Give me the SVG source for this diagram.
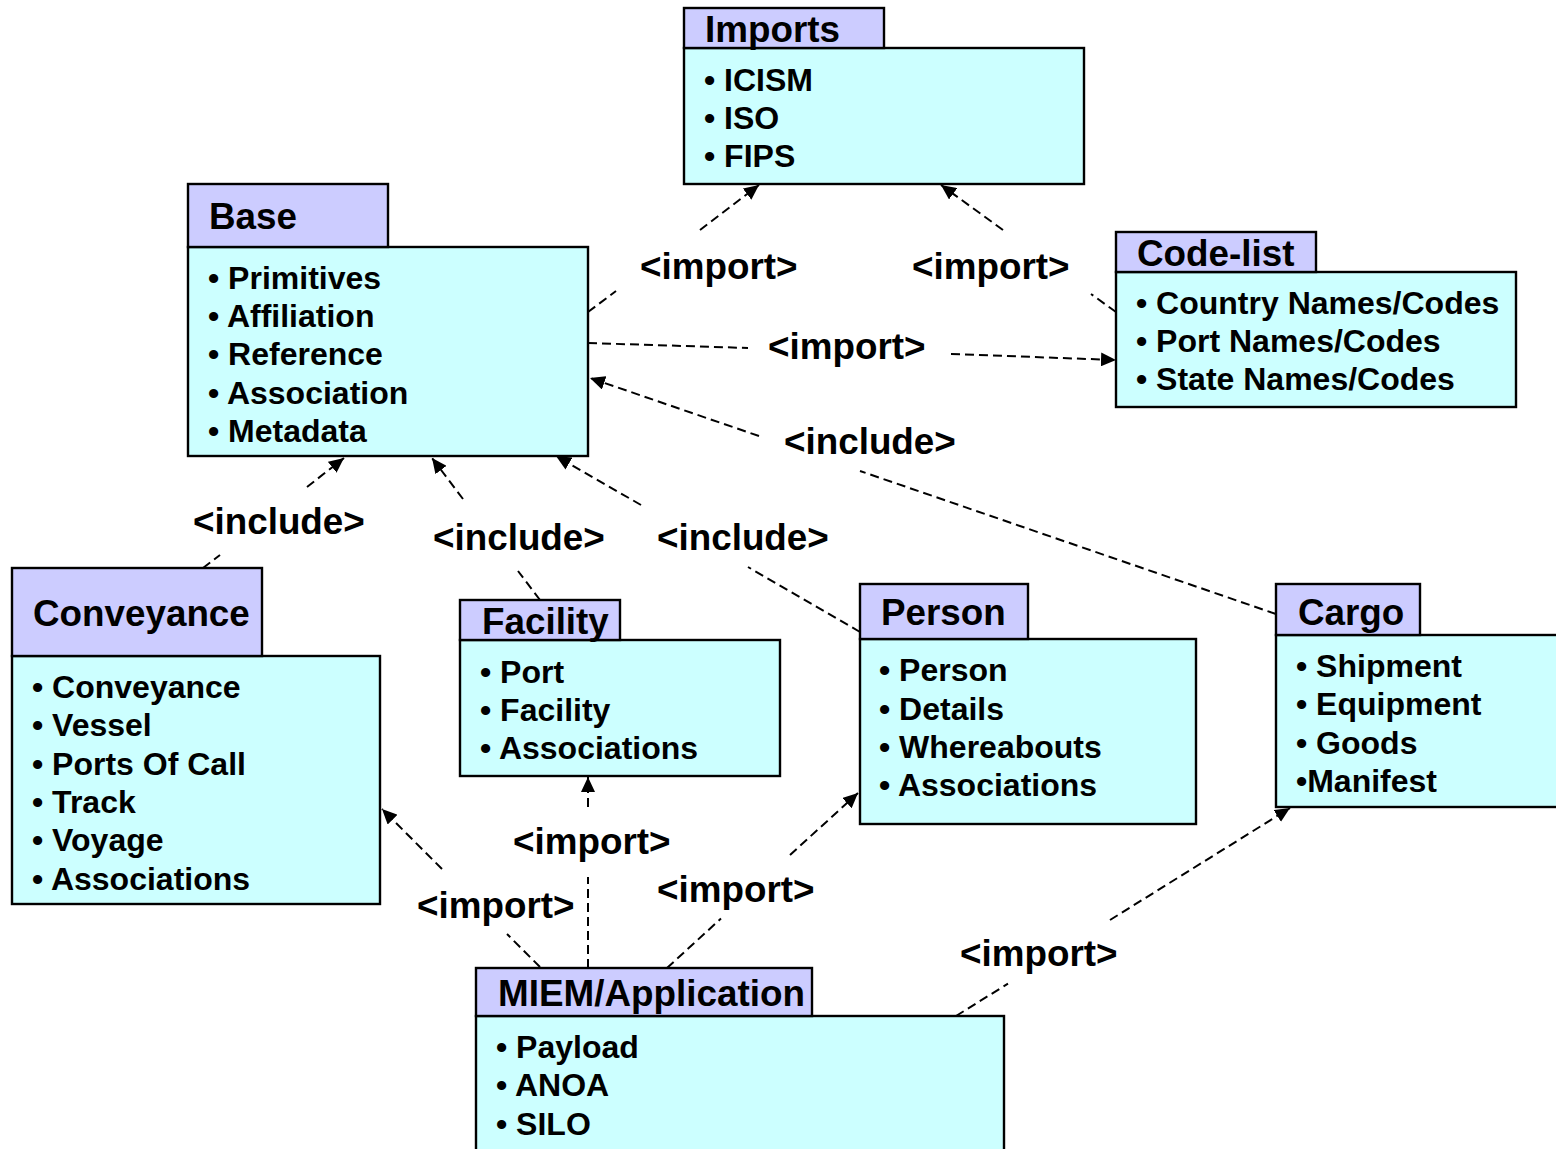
<svg xmlns="http://www.w3.org/2000/svg" width="1556" height="1149" viewBox="0 0 1556 1149">
  <style>
    .tab { fill: #ccccff; stroke: #000; stroke-width: 2.4; }
    .body { fill: #ccffff; stroke: #000; stroke-width: 2.4; }
    .title { font-family: "Liberation Sans", Arial, sans-serif; font-weight: bold; font-size: 36.8px; fill: #000; }
    .item { font-family: "Liberation Sans", Arial, sans-serif; font-weight: bold; font-size: 32px; fill: #000; }
    .label { font-family: "Liberation Sans", Arial, sans-serif; font-weight: bold; font-size: 36.8px; fill: #000; }
    .dep { fill: none; stroke: #000; stroke-width: 2; stroke-dasharray: 9 5; }
    .head { marker-end: url(#arrow); }
  </style>
  <defs>
    <marker id="arrow" markerUnits="userSpaceOnUse" markerWidth="16" markerHeight="14" refX="15" refY="7" orient="auto">
      <path d="M0,0 L15,7 L0,14 z" fill="#000"/>
    </marker>
  </defs>
  <rect width="1556" height="1149" fill="#fff"/>

  <!-- dependency connectors: tail piece, then the piece carrying the arrowhead -->
  <g id="connectors">
    <!-- Base imports Imports -->
    <line class="dep" x1="588" y1="312" x2="616" y2="291"/>
    <line class="dep head" x1="700" y1="230" x2="759" y2="185"/>
    <!-- Code-list imports Imports -->
    <line class="dep" x1="1116" y1="312" x2="1091" y2="294"/>
    <line class="dep head" x1="1003" y1="230" x2="941" y2="185"/>
    <!-- Base imports Code-list -->
    <line class="dep" x1="588" y1="343" x2="748" y2="348"/>
    <line class="dep head" x1="951" y1="354" x2="1116" y2="360"/>
    <!-- Cargo includes Base -->
    <line class="dep" x1="1276" y1="614" x2="860" y2="471"/>
    <line class="dep head" x1="759" y1="436" x2="590" y2="378"/>
    <!-- Conveyance includes Base -->
    <line class="dep" x1="203" y1="568" x2="220" y2="555"/>
    <line class="dep head" x1="307" y1="487" x2="344" y2="458"/>
    <!-- Facility includes Base -->
    <line class="dep" x1="540" y1="600" x2="518" y2="571"/>
    <line class="dep head" x1="463" y1="499" x2="432" y2="458"/>
    <!-- Person includes Base -->
    <line class="dep" x1="860" y1="632" x2="748" y2="567"/>
    <line class="dep head" x1="641" y1="505" x2="556" y2="456"/>
    <!-- MIEM/Application imports Conveyance -->
    <line class="dep" x1="540" y1="967" x2="507" y2="934"/>
    <line class="dep head" x1="442" y1="869" x2="382" y2="809"/>
    <!-- MIEM/Application imports Facility -->
    <line class="dep" x1="588" y1="968" x2="588" y2="877"/>
    <line class="dep head" x1="588" y1="807" x2="588" y2="777"/>
    <!-- MIEM/Application imports Person -->
    <line class="dep" x1="667" y1="968" x2="721" y2="918.5"/>
    <line class="dep head" x1="790" y1="855" x2="858" y2="793"/>
    <!-- MIEM/Application imports Cargo -->
    <line class="dep" x1="956" y1="1016" x2="1008" y2="983.6"/>
    <line class="dep head" x1="1110" y1="920" x2="1290" y2="808"/>
  </g>

  <g id="connector-labels">
    <text class="label" x="640" y="279">&lt;import&gt;</text>
    <text class="label" x="912" y="279">&lt;import&gt;</text>
    <text class="label" x="768" y="359">&lt;import&gt;</text>
    <text class="label" x="784" y="454">&lt;include&gt;</text>
    <text class="label" x="193" y="534">&lt;include&gt;</text>
    <text class="label" x="433" y="550">&lt;include&gt;</text>
    <text class="label" x="657" y="550">&lt;include&gt;</text>
    <text class="label" x="513" y="854">&lt;import&gt;</text>
    <text class="label" x="657" y="902">&lt;import&gt;</text>
    <text class="label" x="417" y="918">&lt;import&gt;</text>
    <text class="label" x="960" y="966">&lt;import&gt;</text>
  </g>

  <g id="imports">
    <rect class="body" x="684" y="48" width="400" height="136"/>
    <rect class="tab" x="684" y="8" width="200" height="40"/>
    <text class="title" x="705" y="42">Imports</text>
    <text class="item" x="704" y="91">• ICISM</text>
    <text class="item" x="704" y="129">• ISO</text>
    <text class="item" x="704" y="167">• FIPS</text>
  </g>

  <g id="base">
    <rect class="body" x="188" y="247" width="400" height="209"/>
    <rect class="tab" x="188" y="184" width="200" height="63"/>
    <text class="title" x="209" y="229">Base</text>
    <text class="item" x="208" y="289">• Primitives</text>
    <text class="item" x="208" y="327">• Affiliation</text>
    <text class="item" x="208" y="365">• Reference</text>
    <text class="item" x="208" y="404">• Association</text>
    <text class="item" x="208" y="442">• Metadata</text>
  </g>

  <g id="code-list">
    <rect class="body" x="1116" y="272" width="400" height="135"/>
    <rect class="tab" x="1116" y="232" width="200" height="40"/>
    <text class="title" x="1137" y="266">Code-list</text>
    <text class="item" x="1136" y="314">• Country Names/Codes</text>
    <text class="item" x="1136" y="352">• Port Names/Codes</text>
    <text class="item" x="1136" y="390">• State Names/Codes</text>
  </g>

  <g id="conveyance">
    <rect class="body" x="12" y="656" width="368" height="248"/>
    <rect class="tab" x="12" y="568" width="250" height="88"/>
    <text class="title" x="33" y="626">Conveyance</text>
    <text class="item" x="32" y="698">• Conveyance</text>
    <text class="item" x="32" y="736">• Vessel</text>
    <text class="item" x="32" y="775">• Ports Of Call</text>
    <text class="item" x="32" y="813">• Track</text>
    <text class="item" x="32" y="851">• Voyage</text>
    <text class="item" x="32" y="890">• Associations</text>
  </g>

  <g id="facility">
    <rect class="body" x="460" y="640" width="320" height="136"/>
    <rect class="tab" x="460" y="600" width="160" height="40"/>
    <text class="title" x="482" y="634">Facility</text>
    <text class="item" x="480" y="683">• Port</text>
    <text class="item" x="480" y="721">• Facility</text>
    <text class="item" x="480" y="759">• Associations</text>
  </g>

  <g id="person">
    <rect class="body" x="860" y="639" width="336" height="185"/>
    <rect class="tab" x="860" y="584" width="168" height="55"/>
    <text class="title" x="881" y="625">Person</text>
    <text class="item" x="879" y="681">• Person</text>
    <text class="item" x="879" y="720">• Details</text>
    <text class="item" x="879" y="758">• Whereabouts</text>
    <text class="item" x="879" y="796">• Associations</text>
  </g>

  <g id="cargo">
    <rect class="body" x="1276" y="635" width="290" height="172"/>
    <rect class="tab" x="1276" y="584" width="144" height="51"/>
    <text class="title" x="1298" y="625">Cargo</text>
    <text class="item" x="1296" y="677">• Shipment</text>
    <text class="item" x="1296" y="715">• Equipment</text>
    <text class="item" x="1296" y="754">• Goods</text>
    <text class="item" x="1296" y="792">•Manifest</text>
  </g>

  <g id="miem-application">
    <rect class="body" x="476" y="1016" width="528" height="150"/>
    <rect class="tab" x="476" y="968" width="336" height="48"/>
    <text class="title" x="498" y="1006" textLength="307" lengthAdjust="spacingAndGlyphs">MIEM/Application</text>
    <text class="item" x="496" y="1058">• Payload</text>
    <text class="item" x="496" y="1096">• ANOA</text>
    <text class="item" x="496" y="1135">• SILO</text>
  </g>
</svg>
